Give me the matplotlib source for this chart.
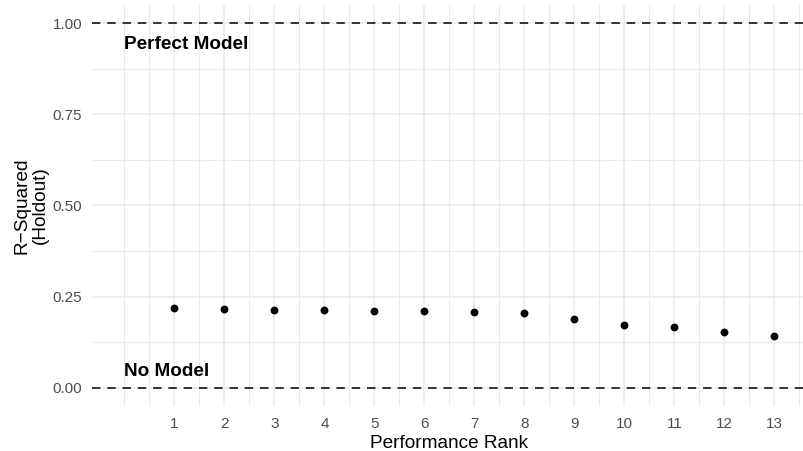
import numpy as np
import matplotlib
matplotlib.use('Agg')
import matplotlib.pyplot as plt
from matplotlib.ticker import MultipleLocator, FixedLocator

plt.rcParams['font.family'] = ['Liberation Sans', 'DejaVu Sans']

# ── Data ─────────────────────────────────────────────────────────────────────
rank = np.arange(1, 14)
r_squared = [0.219, 0.215, 0.214, 0.214, 0.211, 0.211, 0.208,
             0.205, 0.189, 0.171, 0.168, 0.153, 0.143]
ref_lines = [1.0, 0.0]
ref_labels = ['Perfect Model', 'No Model']
ref_label_y = [0.928, 0.032]
y_ticks = [0.0, 0.25, 0.5, 0.75, 1.0]

GRID = '#EBEBEB'
TICK = '#4D4D4D'


def main():
    fig = plt.figure(figsize=(8.04, 4.51), dpi=100)
    ax = fig.add_axes([92 / 804, 45 / 451, (806.8 - 92) / 804, (406 - 5) / 451])

    ax.set_xlim(-0.65, 13.65)
    ax.set_ylim(-0.05, 1.05)

    # grid, ggplot theme_minimal style
    ax.xaxis.set_major_locator(FixedLocator(rank))
    ax.xaxis.set_minor_locator(FixedLocator([0.0] + list(np.arange(0.5, 14, 1.0))))
    ax.yaxis.set_major_locator(FixedLocator(y_ticks))
    ax.yaxis.set_minor_locator(MultipleLocator(0.125))
    ax.grid(which='major', color=GRID, lw=1.1)
    ax.grid(which='minor', color=GRID, lw=0.8)
    ax.set_axisbelow(True)
    for s in ax.spines.values():
        s.set_visible(False)
    ax.tick_params(which='both', length=0)
    ax.tick_params(axis='x', pad=8, labelsize=11, labelcolor=TICK)
    ax.tick_params(axis='y', pad=7, labelsize=11, labelcolor=TICK)
    ax.set_xticklabels([str(r) for r in rank])
    ax.set_yticklabels([f'{v:.2f}' for v in y_ticks])

    for y in ref_lines:
        ax.axhline(y, color='black', lw=1.1, dashes=(5.5, 4.5), zorder=2)
    for lab, y in zip(ref_labels, ref_label_y):
        ax.text(0, y, lab, fontsize=13.7, fontweight='bold', ha='left', va='baseline')

    ax.scatter(rank, r_squared, s=32, color='black', zorder=3, linewidths=0)

    ax.set_xlabel('Performance Rank', fontsize=13.7, labelpad=2.5)
    ax.set_ylabel('R\u2212Squared\n(Holdout)', fontsize=13.7, labelpad=2.5, linespacing=1.1)

    fig.savefig('out.png', dpi=100)
    plt.close(fig)


if __name__ == '__main__':
    main()
